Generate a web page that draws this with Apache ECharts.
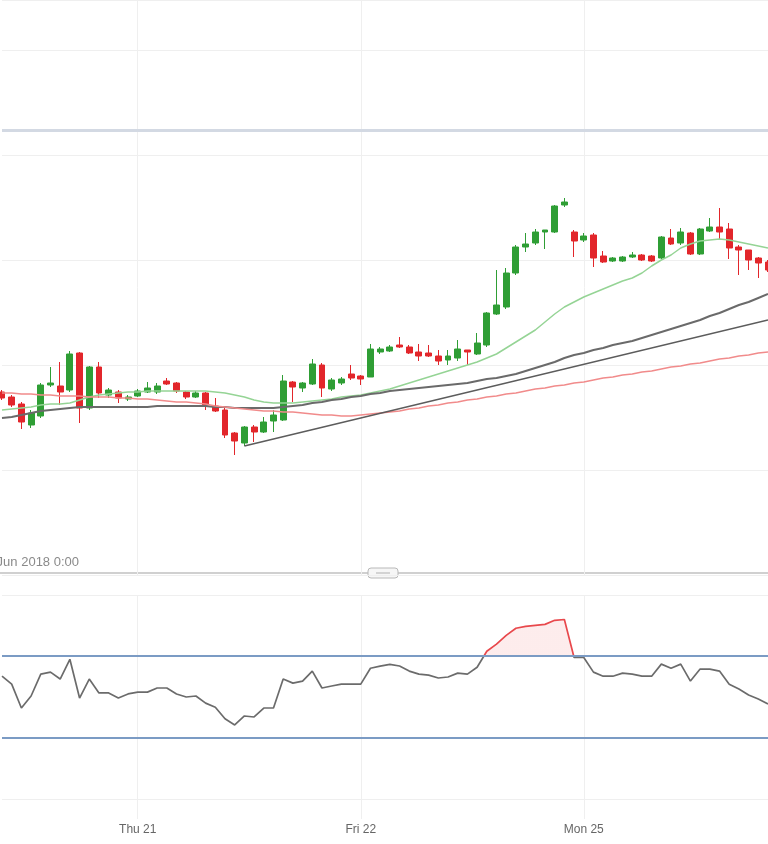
<!DOCTYPE html>
<html>
<head>
<meta charset="utf-8">
<style>
  html, body { margin: 0; padding: 0; background: #ffffff; }
  #chart { width: 768px; height: 844px; }
</style>
<script src="https://cdn.jsdelivr.net/npm/echarts@6/dist/echarts.min.js"></script>
</head>
<body>
<div id="chart"></div>
<script>
// ---- hourly sessions (one-hour daily break at 22:00) ----
const sessionDays  = ['Wed 20', 'Thu 21', 'Fri 22', 'Sun 24', 'Mon 25'];
const sessionHours = [
  [9,10,11,12,13,14,15,16,17,18,19,20,21,23],
  [0,1,2,3,4,5,6,7,8,9,10,11,12,13,14,15,16,17,18,19,20,21,23],
  [0,1,2,3,4,5,6,7,8,9,10,11,12,13,14,15,16,17,18,19,20,21],
  [23],
  [0,1,2,3,4,5,6,7,8,9,10,11,12,13,14,15,16,17,18,19]
];
const rangeLabel = 'Wed 20 Jun 2018 0:00';

// ---- price candles (arbitrary price units, y axis labels are not shown) ----
const opens = [183,178,171,150,159,190,189,185,222,167,
               208,180,183,176,179,183,183,194,192,183,
               178,182,169,165,142,132,148,143,154,155,
               193,187,191,210,186,192,201,199,198,223,
               224,230,228,223,222,219,215,217,225,221,
               230,261,268,302,328,332,343,343,370,343,
               335,340,319,314,314,318,320,319,317,337,
               332,342,321,344,348,346,328,325,317,313];
const closes = [177,170,153,162,190,192,183,221,167,208,
                182,185,177,178,184,187,189,191,184,178,
                182,170,164,140,134,148,143,153,160,194,
                188,192,211,187,195,196,197,196,226,226,
                228,228,222,219,219,214,219,226,223,232,
                262,270,302,328,331,343,345,369,373,334,
                339,317,313,317,318,320,315,314,338,331,
                343,321,346,348,343,327,325,315,312,305];
const lows   = [175,168,146,147,157,188,170,183,152,165,
                177,177,172,174,178,182,181,190,182,176,
                177,165,163,137,120,129,133,142,143,154,
                173,183,190,178,184,190,195,190,198,221,
                223,227,221,214,218,210,210,214,210,220,
                228,260,266,300,323,330,326,342,368,318,
                333,308,312,313,313,317,314,313,316,330,
                330,320,320,343,335,316,300,305,297,303];
const highs  = [185,180,173,165,192,208,213,224,223,209,
                213,187,185,180,186,193,192,197,193,184,
                184,183,177,167,143,149,150,158,165,200,
                194,193,216,212,197,198,210,200,231,228,
                230,238,230,231,230,225,225,235,225,242,
                263,305,307,330,342,346,345,370,377,345,
                342,342,324,318,319,323,321,320,339,346,
                347,343,347,357,367,352,330,325,318,315];

// ---- moving averages ----
const maFast = [165,166,167,168,170,171,171,172,175,178,
                180,181,182,183,183,184,184,184,184,184,
                184,184,183,182,180,178,175,173,172,172,
                172,173,174,175,176,178,179,180,182,184,
                186,189,192,195,198,201,204,207,210,213,
                217,221,227,233,239,245,253,261,268,273,
                278,282,286,290,294,297,302,309,315,320,
                327,331,334,335,336,335,333,331,329,327];
const maMid  = [157,158,160,162,164,165,166,167,168,168,
                168,168,168,168,168,168,169,169,169,169,
                169,169,168,168,167,167,167,167,167,168,
                169,170,172,173,175,176,178,179,181,182,
                184,185,186,187,188,189,190,191,192,194,
                196,197,199,201,204,207,210,213,217,220,
                222,225,227,230,232,234,237,240,243,246,
                249,252,255,259,262,266,270,273,277,281];
const maSlow = [182,182,181,181,180,180,179,179,179,178,
                178,178,177,177,176,176,175,174,173,173,
                172,171,169,168,167,166,165,164,164,163,
                163,162,161,160,160,159,159,160,161,162,
                163,164,166,167,169,170,172,173,175,176,
                178,179,181,182,184,186,187,189,190,192,
                193,195,197,198,200,201,203,204,206,208,
                209,211,212,214,216,217,219,220,222,223];

// ---- drawn levels ----
const trendStartIdx = 25, trendStartVal = 129;
const trendEndIdx = 79,   trendEndVal = 255;
const resistanceLevel = 445;

// ---- RSI ----
const rsi = [60.2,56.3,44.6,50.5,61.2,62.2,58.8,68.5,49.5,58.8,
             52,52,49.5,51.5,52.4,52.4,54.4,54.4,51.5,50,
             50.5,47,45,39.3,36.3,40.7,40.2,44.6,44.6,58.8,
             56.8,57.8,62.7,54.4,55.4,56.3,56.3,56.3,64.1,65.1,
             66,65.2,62.7,61.2,60.7,59.3,59.8,61.7,61.2,64.6,
             72.4,75.9,80.2,83.7,84.6,85.1,85.6,87.6,88,69.4,
             69.4,62.2,60.2,60.2,61.7,61.2,60.2,60.2,66.1,64.1,
             66.1,57.8,63.7,63.7,62.7,56.3,53.9,51,49,46.6];
const rsiOverbought = 70, rsiOversold = 30;

// ---- build ----
const categories = [];
sessionDays.forEach((d, k) => sessionHours[k].forEach(h => {
  categories.push(d + ' ' + String(h).padStart(2, '0') + ':00');
}));
const candleData = opens.map((o, i) => [o, closes[i], lows[i], highs[i]]);
const isDayStart = (i, v) => /00:00$/.test(v);
const gridLine = { color: '#efefef', width: 1 };
const UP = '#2f9e35', DOWN = '#e2262b';

// RSI pane geometry (style only) and split colour gradients at the overbought level
const rsiTop = 595, rsiHeight = 204;
const obFrac = (100 - rsiOverbought) / 100;
function splitGradient(above, below) {
  return new echarts.graphic.LinearGradient(0, rsiTop, 0, rsiTop + rsiHeight, [
    { offset: 0, color: above }, { offset: obFrac, color: above },
    { offset: obFrac, color: below }, { offset: 1, color: below }
  ], true);
}

const chart = echarts.init(document.getElementById('chart'), null, { renderer: 'canvas' });
chart.setOption({
  animation: false,
  backgroundColor: '#ffffff',
  grid: [
    { left: 2, top: 0, width: 769, height: 575 },
    { left: 2, top: rsiTop, width: 769, height: rsiHeight }
  ],
  xAxis: [
    { type: 'category', gridIndex: 0, data: categories, boundaryGap: false,
      axisLine: { show: false }, axisTick: { show: false }, axisLabel: { show: false },
      splitLine: { show: true, interval: isDayStart, lineStyle: gridLine } },
    { type: 'category', gridIndex: 1, data: categories, boundaryGap: false,
      axisLine: { show: false },
      axisTick: { show: true, interval: isDayStart, length: 20, lineStyle: { color: '#efefef' } },
      axisLabel: { show: true, interval: isDayStart, margin: 25, color: '#666666',
                   fontSize: 12, fontFamily: 'Liberation Sans, Arial, sans-serif',
                   formatter: v => v.slice(0, v.length - 6) },
      splitLine: { show: true, interval: isDayStart, lineStyle: gridLine } }
  ],
  yAxis: [
    { type: 'value', gridIndex: 0, min: 0, max: 575, interval: 105,
      axisLine: { show: false }, axisTick: { show: false }, axisLabel: { show: false },
      splitLine: { show: true, lineStyle: gridLine } },
    { type: 'value', gridIndex: 1, min: 0, max: 100, interval: 100,
      axisLine: { show: false }, axisTick: { show: false }, axisLabel: { show: false },
      splitLine: { show: true, lineStyle: gridLine } }
  ],
  series: [
    { type: 'candlestick', xAxisIndex: 0, yAxisIndex: 0, data: candleData, barWidth: '66%',
      itemStyle: { color: UP, color0: DOWN, borderColor: UP, borderColor0: DOWN, borderWidth: 1 },
      markLine: { silent: true, symbol: 'none', label: { show: false },
        lineStyle: { color: '#d3d9e3', width: 3, type: 'solid' },
        data: [{ yAxis: resistanceLevel }] } },
    { type: 'line', xAxisIndex: 0, yAxisIndex: 0, data: maFast, showSymbol: false, silent: true,
      lineStyle: { color: '#95d495', width: 1.5 } },
    { type: 'line', xAxisIndex: 0, yAxisIndex: 0, data: maMid, showSymbol: false, silent: true,
      lineStyle: { color: '#6a6a6a', width: 2 } },
    { type: 'line', xAxisIndex: 0, yAxisIndex: 0, data: maSlow, showSymbol: false, silent: true,
      lineStyle: { color: '#f18b8b', width: 1.5 } },
    { type: 'line', xAxisIndex: 0, yAxisIndex: 0, showSymbol: false, silent: true,
      data: [[categories[trendStartIdx], trendStartVal], [categories[trendEndIdx], trendEndVal]],
      lineStyle: { color: '#5c5c5c', width: 1.6 } },
    { type: 'line', xAxisIndex: 1, yAxisIndex: 1, data: rsi, showSymbol: false, silent: true,
      lineStyle: { width: 0, color: 'rgba(0,0,0,0)' },
      areaStyle: { origin: 'start', opacity: 1,
                   color: splitGradient('rgba(240,110,110,0.13)', 'rgba(255,255,255,0)') } },
    { type: 'line', xAxisIndex: 1, yAxisIndex: 1, data: rsi, showSymbol: false, silent: true,
      lineStyle: { width: 1.7, color: splitGradient('#e8484c', '#6b6b6b') },
      markLine: { silent: true, symbol: 'none', label: { show: false },
        lineStyle: { color: '#7b9bc4', width: 2, type: 'solid' },
        data: [{ yAxis: rsiOverbought }, { yAxis: rsiOversold }] } }
  ],
  graphic: [
    { type: 'text', x: 79, y: 562, silent: true,
      style: { text: rangeLabel, align: 'right', verticalAlign: 'middle',
               fill: '#8a8a8a', font: '13px "Liberation Sans", Arial, sans-serif' } },
    { type: 'line', silent: true, shape: { x1: 0, y1: 573, x2: 768, y2: 573 },
      style: { stroke: '#d0d0d0', lineWidth: 2 } },
    { type: 'rect', silent: true, shape: { x: 368, y: 568, width: 30, height: 10, r: 3 },
      style: { fill: '#f6f6f6', stroke: '#b8b8b8', lineWidth: 1 } },
    { type: 'line', silent: true, shape: { x1: 376, y1: 573, x2: 390, y2: 573 },
      style: { stroke: '#b0b0b0', lineWidth: 1 } }
  ]
});
</script>
</body>
</html>
